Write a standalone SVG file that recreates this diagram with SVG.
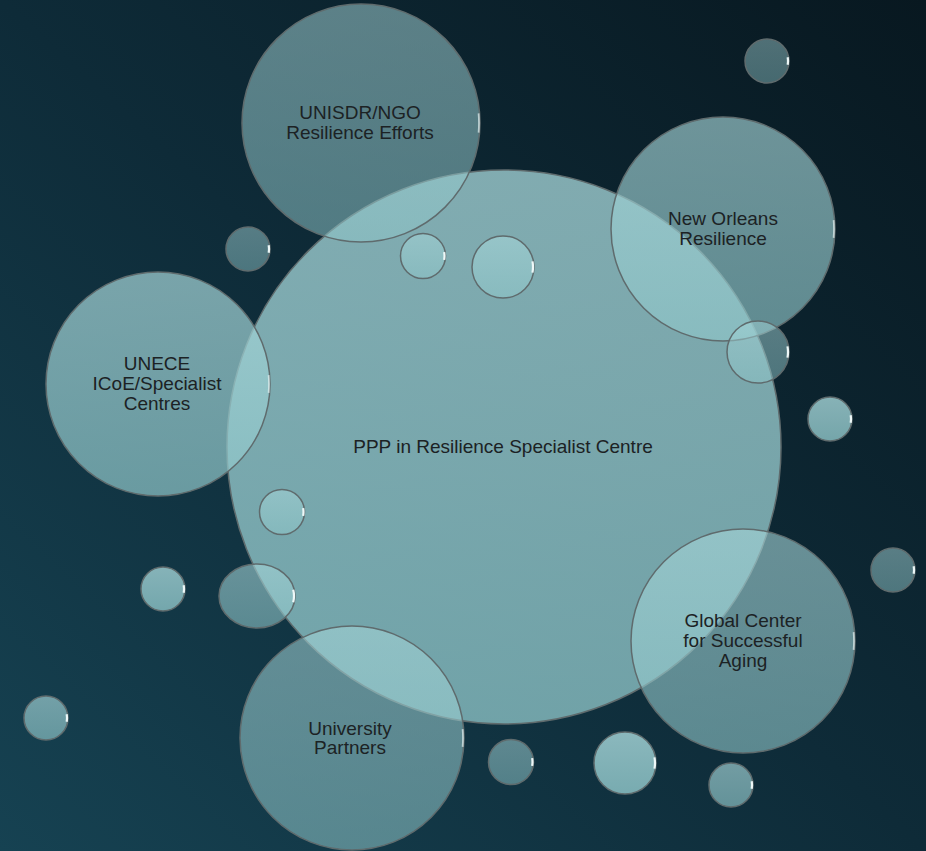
<svg xmlns="http://www.w3.org/2000/svg" width="926" height="851" viewBox="0 0 926 851">
<defs>
<linearGradient id="bg" x1="1" y1="0" x2="0" y2="1">
<stop offset="0" stop-color="#081820"/>
<stop offset="0.5" stop-color="#0e2b38"/>
<stop offset="1" stop-color="#164252"/>
</linearGradient>
<linearGradient id="cf" x1="0" y1="0" x2="0" y2="1">
<stop offset="0" stop-color="#a6d6d9"/>
<stop offset="1" stop-color="#8fc6c9"/>
</linearGradient>
<style>
.c{fill:url(#cf);stroke:#5f6b6d;stroke-width:1.5}
.hl{fill:none;stroke:#eef8f8;stroke-width:2.2;stroke-dasharray:3 94 3}
.hb{fill:none;stroke:#e6f2f2;stroke-width:1.8;stroke-opacity:0.7;stroke-dasharray:1.3 97.4 1.3}
.t{font-family:"Liberation Sans",Arial,sans-serif;font-size:19px;fill:#1c2224;text-anchor:middle}
</style>
</defs>
<rect width="926" height="851" fill="url(#bg)"/>
<g id="connectors"/>
<g id="main">
<circle class="c" cx="504" cy="447" r="277" fill-opacity="0.76"/>
<text class="t" x="503" y="453">PPP in Resilience Specialist Centre</text>
</g>
<g id="unisdr">
<circle class="c" cx="361" cy="123" r="119" fill-opacity="0.52"/>
<circle class="hb" cx="361" cy="123" r="118" pathLength="100"/>
<text class="t" x="360" y="119">UNISDR/NGO</text>
<text class="t" x="360" y="139">Resilience Efforts</text>
</g>
<g id="new-orleans">
<circle class="c" cx="723" cy="229" r="112" fill-opacity="0.64"/>
<circle class="hb" cx="723" cy="229" r="111" pathLength="100"/>
<text class="t" x="723" y="225">New Orleans</text>
<text class="t" x="723" y="245">Resilience</text>
</g>
<g id="unece">
<circle class="c" cx="158" cy="384" r="112" fill-opacity="0.7"/>
<circle class="hb" cx="158" cy="384" r="111" pathLength="100"/>
<text class="t" x="157" y="370">UNECE</text>
<text class="t" x="157" y="390">ICoE/Specialist</text>
<text class="t" x="157" y="410">Centres</text>
</g>
<g id="global-center">
<circle class="c" cx="743" cy="641" r="112" fill-opacity="0.6"/>
<circle class="hb" cx="743" cy="641" r="111" pathLength="100"/>
<text class="t" x="743" y="627">Global Center</text>
<text class="t" x="743" y="647">for Successful</text>
<text class="t" x="743" y="667">Aging</text>
</g>
<g id="university">
<circle class="c" cx="352" cy="738" r="112" fill-opacity="0.55"/>
<circle class="hb" cx="352" cy="738" r="111" pathLength="100"/>
<text class="t" x="350" y="735">University</text>
<text class="t" x="350" y="754">Partners</text>
</g>
<g id="bubbles">
<g id="b1"><circle class="c" cx="767" cy="61" r="22" fill-opacity="0.45"/><circle class="hl" cx="767" cy="61" r="21" pathLength="100"/></g>
<g id="b2"><circle class="c" cx="248" cy="249" r="22" fill-opacity="0.48"/><circle class="hl" cx="248" cy="249" r="21" pathLength="100"/></g>
<g id="b3"><circle class="c" cx="423" cy="256" r="22.5" fill-opacity="0.55"/><circle class="hl" cx="423" cy="256" r="21.5" pathLength="100"/></g>
<g id="b4"><circle class="c" cx="503" cy="267" r="31" fill-opacity="0.6"/><circle class="hl" cx="503" cy="267" r="30" pathLength="100"/></g>
<g id="b5"><circle class="c" cx="758" cy="352" r="31" fill-opacity="0.5"/><circle class="hl" cx="758" cy="352" r="30" pathLength="100"/></g>
<g id="b6"><circle class="c" cx="830" cy="419" r="22" fill-opacity="0.8"/><circle class="hl" cx="830" cy="419" r="21" pathLength="100"/></g>
<g id="b7"><circle class="c" cx="282" cy="512" r="22.5" fill-opacity="0.55"/><circle class="hl" cx="282" cy="512" r="21.5" pathLength="100"/></g>
<g id="b8"><circle class="c" cx="163" cy="589" r="22" fill-opacity="0.78"/><circle class="hl" cx="163" cy="589" r="21" pathLength="100"/></g>
<g id="b9"><ellipse class="c" cx="257" cy="596" rx="38" ry="32" fill-opacity="0.58"/><ellipse class="hl" cx="257" cy="596" rx="37" ry="31" pathLength="100"/></g>
<g id="b10"><circle class="c" cx="893" cy="570" r="22" fill-opacity="0.5"/><circle class="hl" cx="893" cy="570" r="21" pathLength="100"/></g>
<g id="b11"><circle class="c" cx="46" cy="718" r="22" fill-opacity="0.65"/><circle class="hl" cx="46" cy="718" r="21" pathLength="100"/></g>
<g id="b12"><circle class="c" cx="511" cy="762" r="22.5" fill-opacity="0.52"/><circle class="hl" cx="511" cy="762" r="21.5" pathLength="100"/></g>
<g id="b13"><circle class="c" cx="625" cy="763" r="31" fill-opacity="0.82"/><circle class="hl" cx="625" cy="763" r="30" pathLength="100"/></g>
<g id="b14"><circle class="c" cx="731" cy="785" r="22" fill-opacity="0.66"/><circle class="hl" cx="731" cy="785" r="21" pathLength="100"/></g>
</g>
</svg>
